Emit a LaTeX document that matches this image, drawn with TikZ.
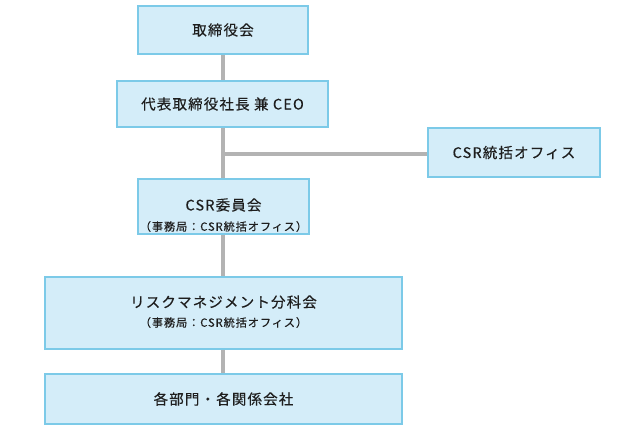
\documentclass[tikz,border=0pt]{standalone}
\usepackage{fontspec}
\setmainfont{Noto Sans CJK JP}[LetterSpace=8,FakeBold=0.35]
\definecolor{boxfill}{HTML}{D4EDF9}
\definecolor{boxline}{HTML}{7CCAE8}
\definecolor{conn}{HTML}{B3B3B3}
\definecolor{txt}{HTML}{1E1E1E}
\begin{document}
\begin{tikzpicture}[x=1pt,y=-1pt,
  orgbox/.style={draw=boxline, line width=1.3pt, fill=boxfill, inner sep=0pt, text=txt, align=center, font=\fontsize{14.5}{16}\selectfont},
  maintext/.style={text=txt, font=\fontsize{14.5}{16}\selectfont},
  sub/.style={text=txt, font=\fontsize{11.2}{12}\selectfont},
  link/.style={draw=conn, line width=4.5pt}]
\useasboundingbox (0,0) rectangle (624,428);
\node[orgbox, minimum width=170pt, minimum height=48pt] (board) at (223,30) {取締役会};
\node[orgbox, minimum width=211pt, minimum height=46pt] (ceo) at (222.5,104) {代表取締役社長 兼 CEO};
\node[orgbox, minimum width=172pt, minimum height=49pt] (office) at (514,152.5) {CSR統括オフィス};
\node[orgbox, minimum width=171pt, minimum height=55pt] (csr) at (223.5,206.5) {};
\node[maintext] (csrt) at (223.5,205) {CSR委員会};
\node[sub] (csrs) at (223.5,226.5) {（事務局：CSR統括オフィス）};
\node[orgbox, minimum width=357pt, minimum height=72pt] (risk) at (223.5,313) {};
\node[maintext] (riskt) at (223.5,302) {リスクマネジメント分科会};
\node[sub] (risks) at (223.5,322.5) {（事務局：CSR統括オフィス）};
\node[orgbox, minimum width=357pt, minimum height=50pt] (dept) at (223.5,399) {各部門・各関係会社};
\coordinate (branch) at (223,154);
\draw[link] (board.south -| branch) -- (ceo.north -| branch);
\draw[link] (ceo.south -| branch) -- (csr.north -| branch);
\draw[link, line width=4pt] (branch) -- (office.west |- branch);
\draw[link] (csr.south -| branch) -- (risk.north -| branch);
\draw[link] (risk.south -| branch) -- (dept.north -| branch);
\end{tikzpicture}
\end{document}
